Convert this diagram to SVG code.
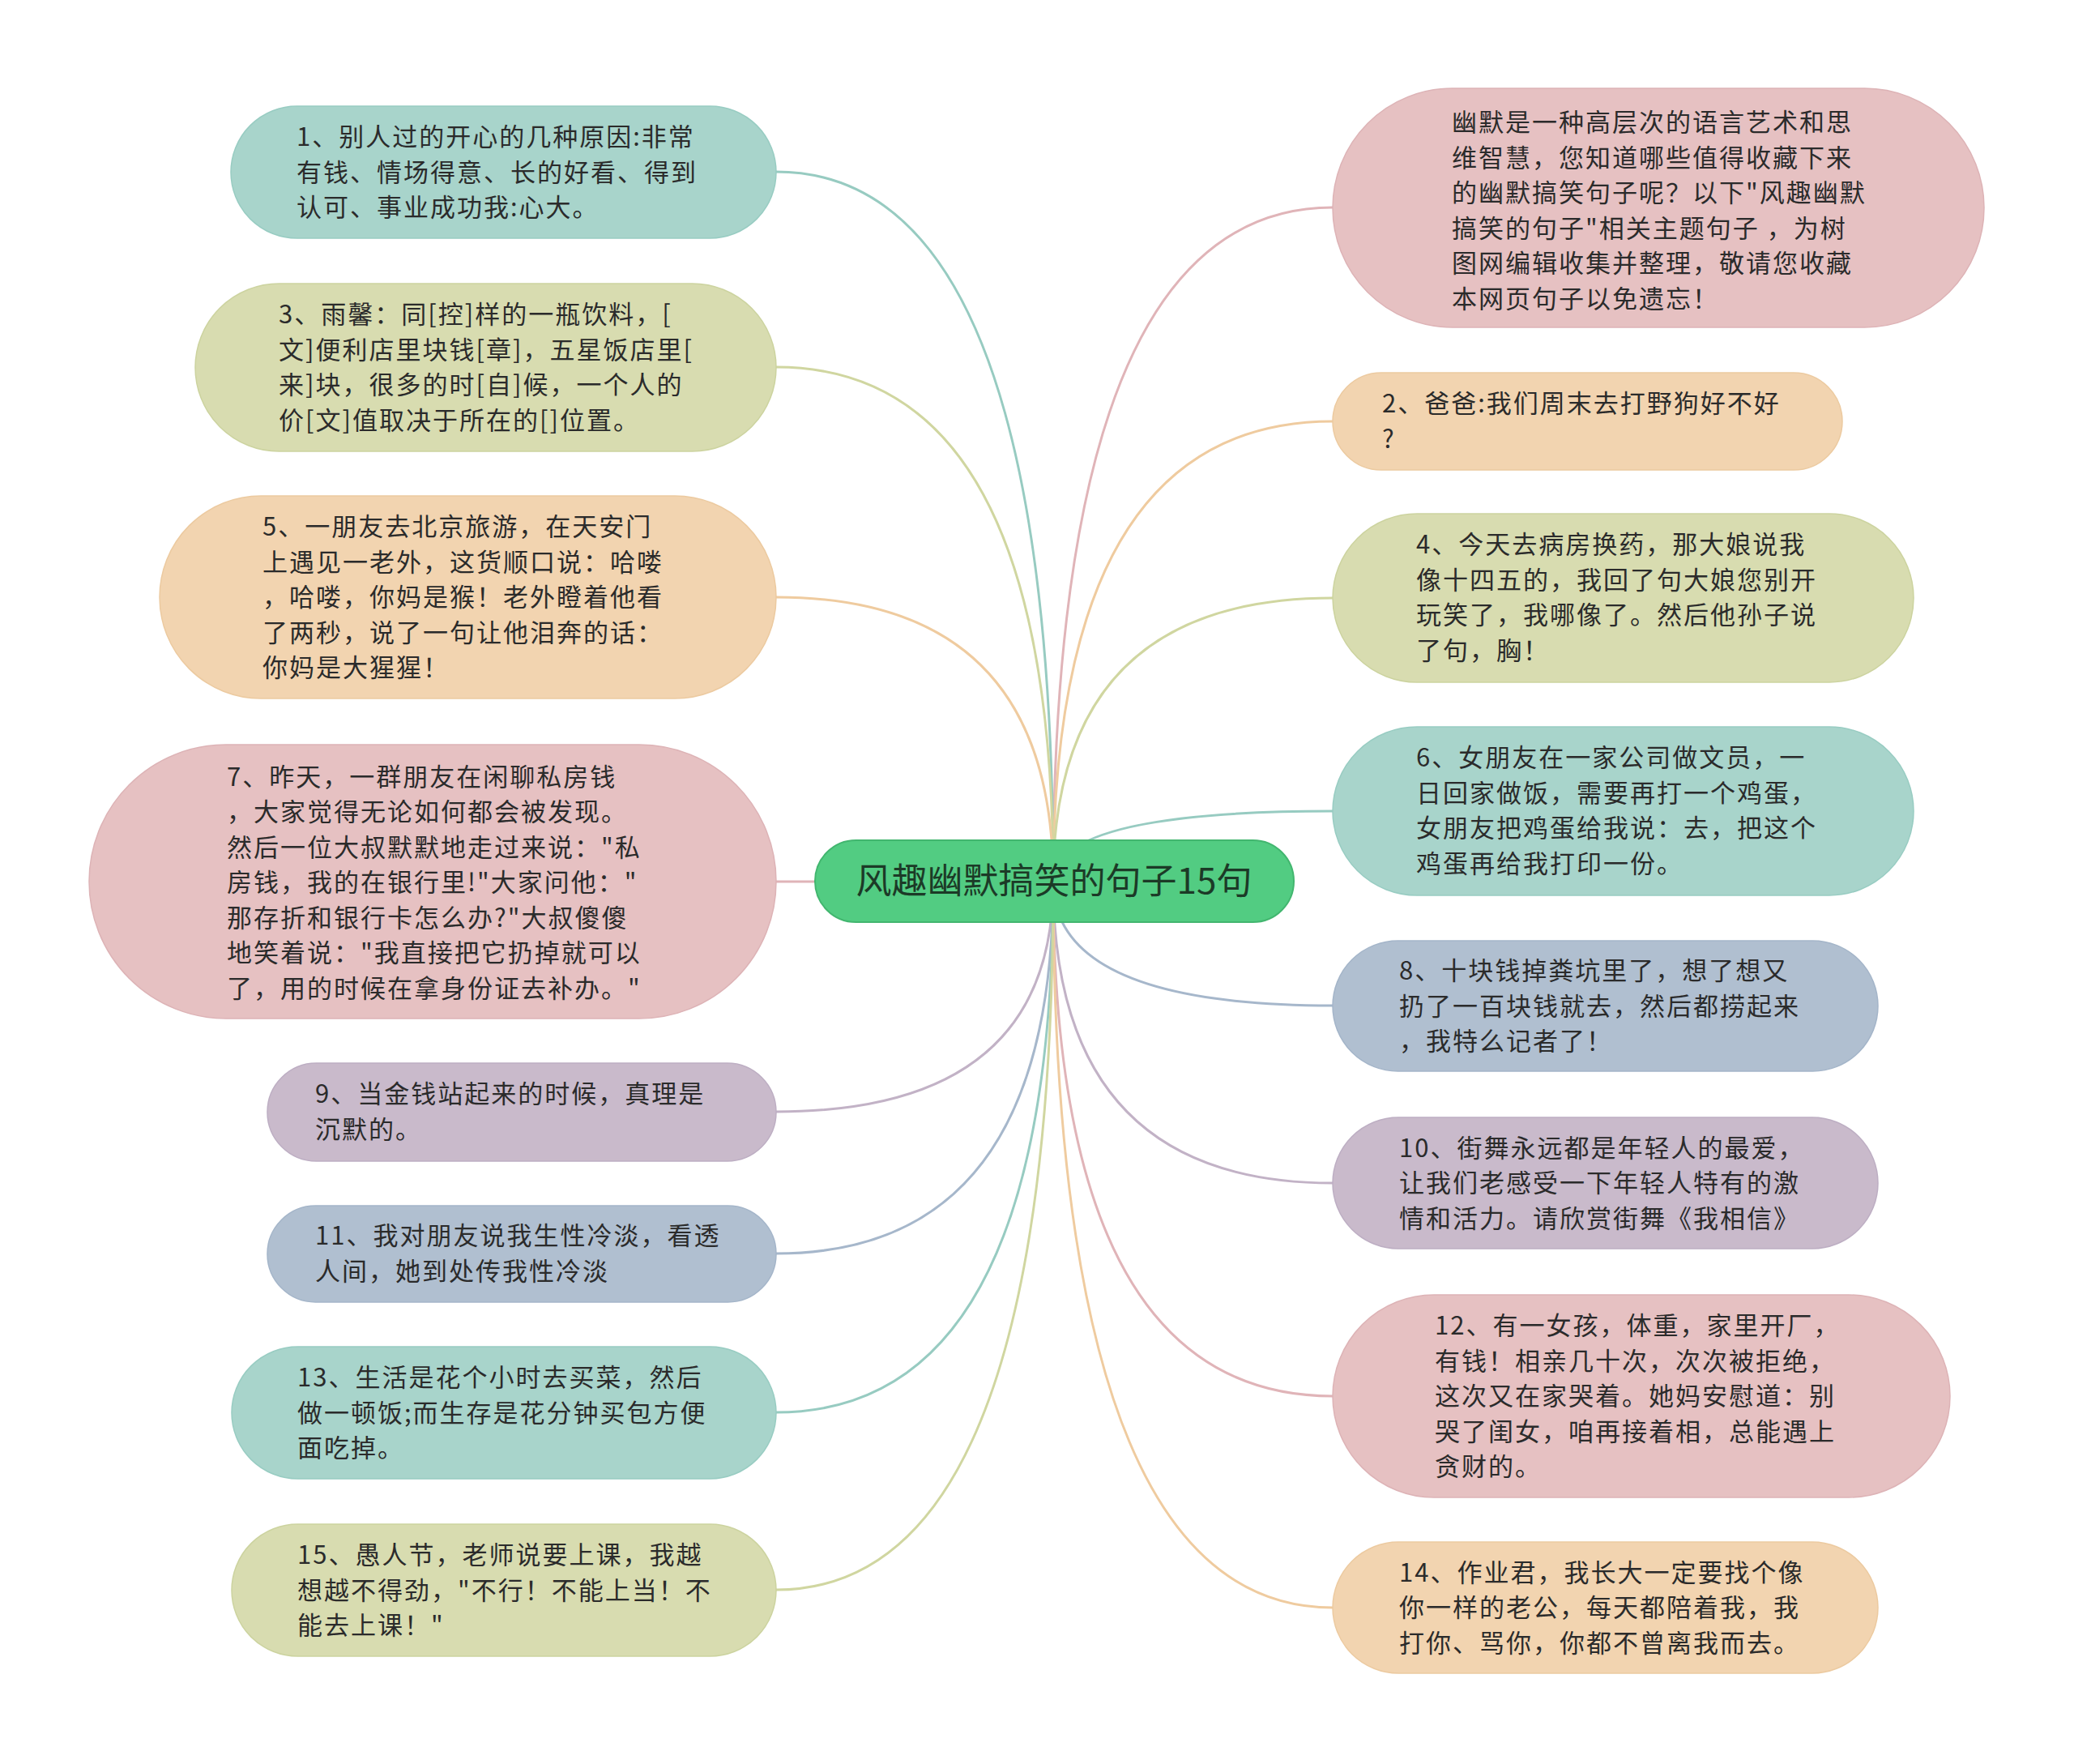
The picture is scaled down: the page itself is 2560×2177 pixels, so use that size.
<svg xmlns="http://www.w3.org/2000/svg" width="2560" height="2177" viewBox="0 0 2560 2177">
<style>
.t{font-family:"Noto Sans CJK SC","Noto Sans",sans-serif;font-size:31px;letter-spacing:2px;fill:#2b2b2b}
.c{font-family:"Noto Sans CJK SC","Noto Sans",sans-serif;font-size:44px;fill:#1c3a27}
.teal{fill:#a8d4cb;stroke:#98ccc2;stroke-width:1.5}
.olive{fill:#d8dcb0;stroke:#ccd39f;stroke-width:1.5}
.peach{fill:#f2d4b0;stroke:#eccaa0;stroke-width:1.5}
.pink{fill:#e6c1c2;stroke:#ddb3b6;stroke-width:1.5}
.lav{fill:#c9bacb;stroke:#bdaec3;stroke-width:1.5}
.blue{fill:#b0bfd0;stroke:#a4b5c9;stroke-width:1.5}
.l{fill:none;stroke-width:3}
.lteal{stroke:#97cbc1}.lolive{stroke:#d0d6a0}.lpeach{stroke:#efcb9f}.lpink{stroke:#e0b4b8}.llav{stroke:#c2b2c6}.lblue{stroke:#a6b7cb}
</style>
<rect width="2560" height="2177" fill="#ffffff"/>
<g id="connectors">
<path class="l lpink" d="M1300 1088 Q1300 256 1645 256"/>
<path class="l lteal" d="M1300 1088 Q1300 212 958 212"/>
<path class="l lpeach" d="M1300 1088 Q1300 520 1645 520"/>
<path class="l lolive" d="M1300 1088 Q1300 453 958 453"/>
<path class="l lolive" d="M1300 1088 Q1300 738 1645 738"/>
<path class="l lpeach" d="M1300 1088 Q1300 737 958 737"/>
<path class="l lteal" d="M1300 1088 Q1300 1001 1645 1001"/>
<path class="l lpink" d="M1300 1088 Q1300 1088 958 1088"/>
<path class="l lblue" d="M1300 1088 Q1300 1241 1645 1241"/>
<path class="l llav" d="M1300 1088 Q1300 1372 958 1372"/>
<path class="l llav" d="M1300 1088 Q1300 1460 1645 1460"/>
<path class="l lblue" d="M1300 1088 Q1300 1547 958 1547"/>
<path class="l lpink" d="M1300 1088 Q1300 1723 1645 1723"/>
<path class="l lteal" d="M1300 1088 Q1300 1743 958 1743"/>
<path class="l lpeach" d="M1300 1088 Q1300 1984 1645 1984"/>
<path class="l lolive" d="M1300 1088 Q1300 1962 958 1962"/>
</g>
<g id="center">
<rect x="1006" y="1037" width="591" height="101" rx="50.5" fill="#52cc82" stroke="#42b66f" stroke-width="2"/>
<text class="c" x="1301" y="1103" text-anchor="middle">风趣幽默搞笑的句子15句</text>
</g>
<g id="intro">
<rect class="pink" x="1645" y="109" width="804" height="295" rx="147.5"/>
<text class="t" x="1792"><tspan x="1792" y="162">幽默是一种高层次的语言艺术和思</tspan><tspan x="1792" y="205.5">维智慧，您知道哪些值得收藏下来</tspan><tspan x="1792" y="249">的幽默搞笑句子呢？以下"风趣幽默</tspan><tspan x="1792" y="292.5">搞笑的句子"相关主题句子 ，为树</tspan><tspan x="1792" y="336">图网编辑收集并整理，敬请您收藏</tspan><tspan x="1792" y="379.5">本网页句子以免遗忘！</tspan></text>
</g>
<g id="n1">
<rect class="teal" x="285" y="131" width="673" height="163" rx="81.5"/>
<text class="t"><tspan x="366" y="180">1、别人过的开心的几种原因:非常</tspan><tspan x="366" y="223.5">有钱、情场得意、长的好看、得到</tspan><tspan x="366" y="267">认可、事业成功我:心大。</tspan></text>
</g>
<g id="n2">
<rect class="peach" x="1645" y="460" width="629" height="120" rx="60"/>
<text class="t"><tspan x="1706" y="509">2、爸爸:我们周末去打野狗好不好</tspan><tspan x="1706" y="552.5">?</tspan></text>
</g>
<g id="n3">
<rect class="olive" x="241" y="350" width="717" height="207" rx="103.5"/>
<text class="t"><tspan x="344" y="399">3、雨馨：同[控]样的一瓶饮料，[</tspan><tspan x="344" y="442.5">文]便利店里块钱[章]，五星饭店里[</tspan><tspan x="344" y="486">来]块，很多的时[自]候，一个人的</tspan><tspan x="344" y="529.5">价[文]值取决于所在的[]位置。</tspan></text>
</g>
<g id="n4">
<rect class="olive" x="1645" y="634" width="717" height="208" rx="104"/>
<text class="t"><tspan x="1748" y="683">4、今天去病房换药，那大娘说我</tspan><tspan x="1748" y="726.5">像十四五的，我回了句大娘您别开</tspan><tspan x="1748" y="770">玩笑了，我哪像了。然后他孙子说</tspan><tspan x="1748" y="813.5">了句，胸！</tspan></text>
</g>
<g id="n5">
<rect class="peach" x="197" y="612" width="761" height="250" rx="125"/>
<text class="t"><tspan x="324" y="661">5、一朋友去北京旅游，在天安门</tspan><tspan x="324" y="704.5">上遇见一老外，这货顺口说：哈喽</tspan><tspan x="324" y="748">，哈喽，你妈是猴！老外瞪着他看</tspan><tspan x="324" y="791.5">了两秒，说了一句让他泪奔的话：</tspan><tspan x="324" y="835">你妈是大猩猩！</tspan></text>
</g>
<g id="n6">
<rect class="teal" x="1645" y="897" width="717" height="208" rx="104"/>
<text class="t"><tspan x="1748" y="946">6、女朋友在一家公司做文员，一</tspan><tspan x="1748" y="989.5">日回家做饭，需要再打一个鸡蛋，</tspan><tspan x="1748" y="1033">女朋友把鸡蛋给我说：去，把这个</tspan><tspan x="1748" y="1076.5">鸡蛋再给我打印一份。</tspan></text>
</g>
<g id="n7">
<rect class="pink" x="110" y="919" width="848" height="338" rx="169"/>
<text class="t"><tspan x="280" y="969.5">7、昨天，一群朋友在闲聊私房钱</tspan><tspan x="280" y="1013">，大家觉得无论如何都会被发现。</tspan><tspan x="280" y="1056.5">然后一位大叔默默地走过来说："私</tspan><tspan x="280" y="1100">房钱，我的在银行里!"大家问他："</tspan><tspan x="280" y="1143.5">那存折和银行卡怎么办?"大叔傻傻</tspan><tspan x="280" y="1187">地笑着说："我直接把它扔掉就可以</tspan><tspan x="280" y="1230.5">了，用的时候在拿身份证去补办。"</tspan></text>
</g>
<g id="n8">
<rect class="blue" x="1645" y="1161" width="673" height="161" rx="80.5"/>
<text class="t"><tspan x="1727" y="1209">8、十块钱掉粪坑里了，想了想又</tspan><tspan x="1727" y="1252.5">扔了一百块钱就去，然后都捞起来</tspan><tspan x="1727" y="1296">，我特么记者了！</tspan></text>
</g>
<g id="n9">
<rect class="lav" x="330" y="1312" width="628" height="121" rx="60.5"/>
<text class="t"><tspan x="389" y="1361">9、当金钱站起来的时候，真理是</tspan><tspan x="389" y="1404.5">沉默的。</tspan></text>
</g>
<g id="n10">
<rect class="lav" x="1645" y="1379" width="673" height="162" rx="81"/>
<text class="t"><tspan x="1727" y="1427.5">10、街舞永远都是年轻人的最爱，</tspan><tspan x="1727" y="1471">让我们老感受一下年轻人特有的激</tspan><tspan x="1727" y="1514.5">情和活力。请欣赏街舞《我相信》</tspan></text>
</g>
<g id="n11">
<rect class="blue" x="330" y="1488" width="628" height="119" rx="59.5"/>
<text class="t"><tspan x="389" y="1536">11、我对朋友说我生性冷淡，看透</tspan><tspan x="389" y="1579.5">人间，她到处传我性冷淡</tspan></text>
</g>
<g id="n12">
<rect class="pink" x="1645" y="1598" width="762" height="250" rx="125"/>
<text class="t"><tspan x="1771" y="1647">12、有一女孩，体重，家里开厂，</tspan><tspan x="1771" y="1690.5">有钱！相亲几十次，次次被拒绝，</tspan><tspan x="1771" y="1734">这次又在家哭着。她妈安慰道：别</tspan><tspan x="1771" y="1777.5">哭了闺女，咱再接着相，总能遇上</tspan><tspan x="1771" y="1821">贪财的。</tspan></text>
</g>
<g id="n13">
<rect class="teal" x="286" y="1662" width="672" height="163" rx="81.5"/>
<text class="t"><tspan x="367" y="1711">13、生活是花个小时去买菜，然后</tspan><tspan x="367" y="1754.5">做一顿饭;而生存是花分钟买包方便</tspan><tspan x="367" y="1798">面吃掉。</tspan></text>
</g>
<g id="n14">
<rect class="peach" x="1645" y="1903" width="673" height="162" rx="81"/>
<text class="t"><tspan x="1727" y="1951.5">14、作业君，我长大一定要找个像</tspan><tspan x="1727" y="1995">你一样的老公，每天都陪着我，我</tspan><tspan x="1727" y="2038.5">打你、骂你，你都不曾离我而去。</tspan></text>
</g>
<g id="n15">
<rect class="olive" x="286" y="1881" width="672" height="163" rx="81.5"/>
<text class="t"><tspan x="367" y="1930">15、愚人节，老师说要上课，我越</tspan><tspan x="367" y="1973.5">想越不得劲，"不行！不能上当！不</tspan><tspan x="367" y="2017">能去上课！"</tspan></text>
</g>
</svg>
